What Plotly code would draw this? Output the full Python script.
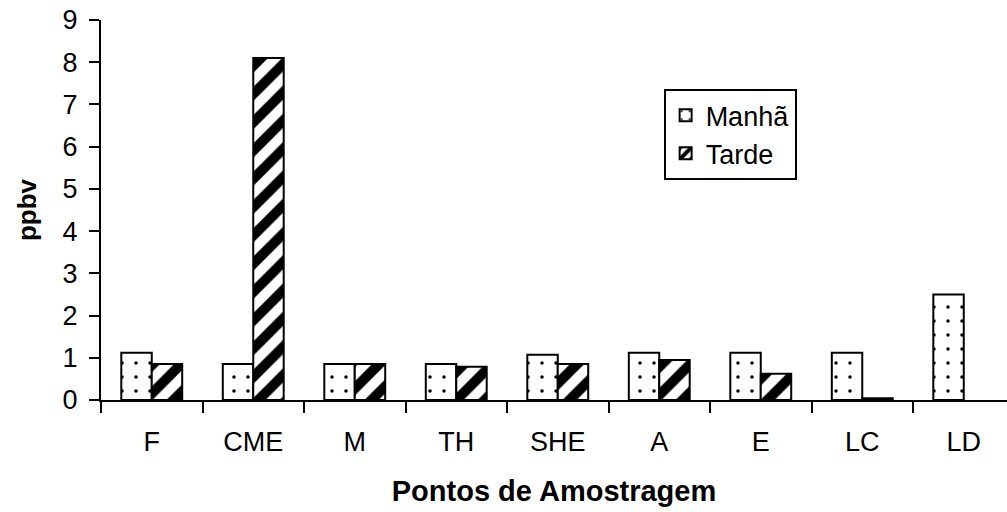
import plotly.graph_objects as go

pontos = ['F', 'CME', 'M', 'TH', 'SHE', 'A', 'E', 'LC', 'LD']
manha = [1.12, 0.85, 0.85, 0.85, 1.07, 1.12, 1.12, 1.12, 2.5]
tarde = [0.85, 8.1, 0.85, 0.79, 0.85, 0.95, 0.62, 0.04, None]

font_name = 'Liberation Sans, Arial, sans-serif'

fig = go.Figure()
fig.add_trace(go.Bar(x=pontos, y=manha, name='Manhã',
                     marker=dict(color='white',
                                 line=dict(color='black', width=2),
                                 pattern=dict(shape='.', fgcolor='black', bgcolor='white',
                                              fgopacity=1, size=14, solidity=0.05))))
fig.add_trace(go.Bar(x=pontos, y=tarde, name='Tarde',
                     marker=dict(color='white',
                                 line=dict(color='black', width=2),
                                 pattern=dict(shape='/', fgcolor='black', bgcolor='white',
                                              fgopacity=1, size=20, solidity=0.5))))

fig.update_layout(
    width=1007, height=512,
    margin=dict(l=101, r=0, t=20, b=112),
    plot_bgcolor='white',
    paper_bgcolor='white',
    barmode='group',
    bargap=0.4,
    bargroupgap=0,
    font=dict(family=font_name, size=27, color='black'),
    legend=dict(x=0.621, y=0.818, xanchor='left', yanchor='top',
                bordercolor='black', borderwidth=2, bgcolor='white',
                font=dict(size=27)),
)
fig.update_xaxes(
    range=[-0.5, 8.426],
    showline=True, linecolor='black', linewidth=2,
    ticks='outside', tickson='boundaries', ticklen=11, tickwidth=2, tickcolor='black',
    showgrid=False,
    ticklabelstandoff=17,
    title=dict(text='<b>Pontos de Amostragem</b>', font=dict(size=29), standoff=24),
)
fig.update_yaxes(
    range=[0, 9], dtick=1,
    showline=True, linecolor='black', linewidth=2,
    ticks='outside', ticklen=10, tickwidth=2, tickcolor='black',
    showgrid=False, zeroline=False,
    ticklabelstandoff=6,
    title=dict(text='<b>ppbv</b>', font=dict(size=26), standoff=18),
)

# page body has an 8px default margin, drop it so the chart sits at 0,0
fig.write_html('out.html', config={'displayModeBar': False},
               post_script="document.body.style.margin='0';")
